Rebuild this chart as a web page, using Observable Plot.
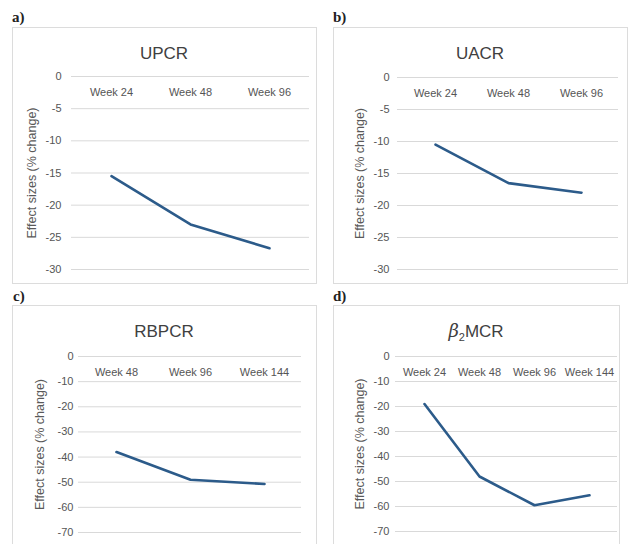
<!DOCTYPE html>
<html>
<head>
<meta charset="utf-8">
<script src="https://cdn.jsdelivr.net/npm/d3@7"></script>
<script src="https://cdn.jsdelivr.net/npm/@observablehq/plot@0.6"></script>
<style>
  html, body { margin: 0; padding: 0; background: #fff; }
  #root { position: relative; width: 632px; height: 544px; overflow: hidden; background: #fff; }
  .box { position: absolute; border: 1px solid #dcdcdc; box-sizing: border-box; background: #fff; overflow: hidden; }
  .tag { position: absolute; font-family: "Liberation Serif", "DejaVu Serif", serif; font-weight: bold; font-size: 15px; color: #222; }
</style>
</head>
<body>
<div id="root"></div>
<script>
// ---- Data ----
const upcrWeeks = ["Week 24", "Week 48", "Week 96"];
const upcrValues = [-15.5, -23.0, -26.7];

const uacrWeeks = ["Week 24", "Week 48", "Week 96"];
const uacrValues = [-10.5, -16.5, -18.0];

const rbpcrWeeks = ["Week 48", "Week 96", "Week 144"];
const rbpcrValues = [-38.0, -49.0, -50.7];

const b2mcrWeeks = ["Week 24", "Week 48", "Week 96", "Week 144"];
const b2mcrValues = [-19.0, -48.0, -59.5, -55.5];

const ticksTop = [0, -5, -10, -15, -20, -25, -30];
const ticksBottom = [0, -10, -20, -30, -40, -50, -60, -70];

const panelTags = ["a)", "b)", "c)", "d)"];
const panelTitles = ["UPCR", "UACR", "RBPCR", "β2MCR"];
const yTitle = "Effect sizes (% change)";

// ---- Layout ----
const panels = [
  {tag: panelTags[0], title: panelTitles[0], weeks: upcrWeeks, values: upcrValues, ticks: ticksTop, domain: [-30, 0],
   left: 12, top: 27, width: 305, height: 257, mt: 48, mb: 14, ml: 58, mr: 7, pad: 10, ytx: 18, tagX: 12, tagY: 9},
  {tag: panelTags[1], title: panelTitles[1], weeks: uacrWeeks, values: uacrValues, ticks: ticksTop, domain: [-30, 0],
   left: 333, top: 27, width: 295, height: 257, mt: 49, mb: 14, ml: 63, mr: 9, pad: 8, ytx: 25, tagX: 333, tagY: 9},
  {tag: panelTags[2], title: panelTitles[2], weeks: rbpcrWeeks, values: rbpcrValues, ticks: ticksBottom, domain: [-70, 0],
   left: 12, top: 305, width: 305, height: 250, mt: 50, mb: 22, ml: 65, mr: 15, pad: 5, ytx: 26, tagX: 13, tagY: 288},
  {tag: panelTags[3], title: panelTitles[3], weeks: b2mcrWeeks, values: b2mcrValues, ticks: ticksBottom, domain: [-70, 0],
   left: 333, top: 305, width: 287, height: 250, mt: 50, mb: 23, ml: 61, mr: 2, pad: 6, ytx: 25, tagX: 333, tagY: 288}
];

const root = document.getElementById("root");
const FONT = "'Liberation Sans', Arial, sans-serif";
const LINE = "#2c5b8a";

for (const p of panels) {
  const data = p.weeks.map((w, i) => ({week: w, value: p.values[i]}));
  const frameCx = p.ml + (p.width - p.ml - p.mr) / 2;
  const chart = Plot.plot({
    width: p.width - 2,
    height: p.height - 2,
    marginTop: p.mt,
    marginBottom: p.mb,
    marginLeft: p.ml,
    marginRight: p.mr,
    style: {fontFamily: FONT, background: "transparent", overflow: "visible"},
    x: {type: "point", domain: p.weeks, padding: 0.5},
    y: {domain: p.domain},
    marks: [
      Plot.gridY(p.ticks, {stroke: "#d9d9d9", strokeOpacity: 1, strokeWidth: 1}),
      Plot.axisY({ticks: p.ticks, tickFormat: d => String(d), tickSize: 0, tickPadding: p.pad, label: null, fontSize: 11, fill: "#555"}),
      Plot.axisX({anchor: "top", tickSize: 0, tickPadding: 0, dy: 16, lineAnchor: "middle", label: null, fontSize: 11, fill: "#555"}),
      Plot.line(data, {x: "week", y: "value", stroke: LINE, strokeWidth: 2.6, strokeLinejoin: "round"}),
      Plot.text([p.title], {frameAnchor: "top", dx: (p.width / 2) - frameCx - 1, dy: -(p.mt - 25), lineAnchor: "middle", textAnchor: "middle", fontSize: 17, fill: "#404040"}),
      Plot.text([yTitle], {frameAnchor: "left", rotate: -90, dx: -(p.ml - p.ytx), textAnchor: "middle", lineAnchor: "middle", fontSize: 12.5, fill: "#595959"})
    ]
  });
  // Title with italic beta and subscript 2
  if (p.title === "β2MCR") {
    for (const t of chart.querySelectorAll("text")) {
      if (t.textContent === "β2MCR") {
        t.textContent = "";
        const ns = "http://www.w3.org/2000/svg";
        const s1 = document.createElementNS(ns, "tspan");
        s1.setAttribute("font-style", "italic");
        s1.setAttribute("font-family", "'DejaVu Serif', 'Liberation Serif', serif");
        s1.setAttribute("font-size", "18");
        s1.textContent = "β";
        const s2 = document.createElementNS(ns, "tspan");
        s2.setAttribute("font-size", "11");
        s2.setAttribute("dy", "4");
        s2.textContent = "2";
        const s3 = document.createElementNS(ns, "tspan");
        s3.setAttribute("dy", "-4");
        s3.textContent = "MCR";
        t.appendChild(s1); t.appendChild(s2); t.appendChild(s3);
      }
    }
  }
  const box = document.createElement("div");
  box.className = "box";
  box.style.left = p.left + "px";
  box.style.top = p.top + "px";
  box.style.width = p.width + "px";
  box.style.height = p.height + "px";
  box.appendChild(chart);
  root.appendChild(box);

  const tag = document.createElement("div");
  tag.className = "tag";
  tag.style.left = p.tagX + "px";
  tag.style.top = p.tagY + "px";
  tag.textContent = p.tag;
  root.appendChild(tag);
}
</script>
</body>
</html>
